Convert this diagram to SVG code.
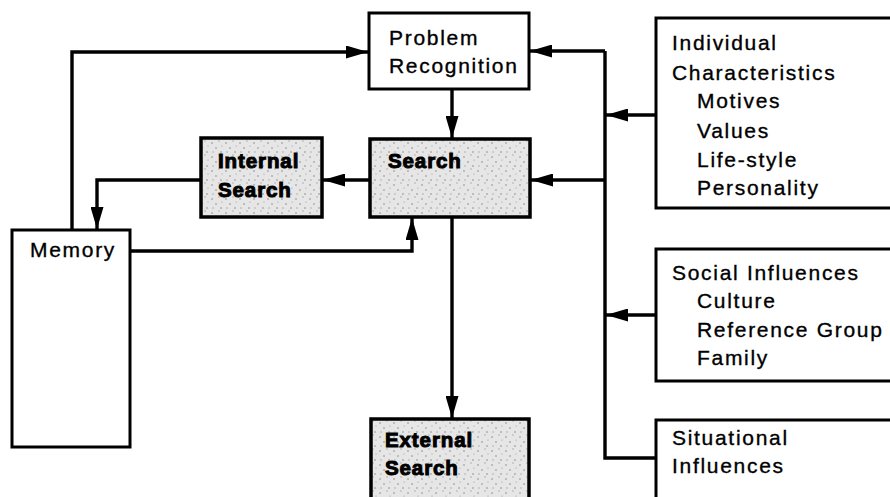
<svg xmlns="http://www.w3.org/2000/svg" width="890" height="497" viewBox="0 0 890 497">
  <style>
    .box { fill: #ffffff; stroke: #000; stroke-width: 3; }
    .shaded { fill: url(#stipple); stroke: #000; stroke-width: 3.5; }
    .lbl { font-family: "Liberation Sans", Arial, sans-serif; font-size: 21px; letter-spacing: 1.7px; fill: #000; stroke: #000; stroke-width: 0.35; }
    .bold { font-family: "Liberation Sans", Arial, sans-serif; font-size: 20.5px; font-weight: bold; letter-spacing: 0.9px; fill: #000; stroke: #000; stroke-width: 1; }
    .wire { fill: none; stroke: #000; stroke-width: 3.4; stroke-linejoin: miter; }
  </style>
  <defs>
    <!-- grainy halftone fill for the search boxes -->
    <pattern id="stipple" width="14" height="14" patternUnits="userSpaceOnUse">
      <rect width="14" height="14" fill="#e6e6e6"/>
      <circle cx="2" cy="3" r="0.8" fill="#8a8a8a"/>
      <circle cx="9" cy="1" r="0.7" fill="#a0a0a0"/>
      <circle cx="6" cy="8" r="0.8" fill="#8a8a8a"/>
      <circle cx="12" cy="6" r="0.6" fill="#9a9a9a"/>
      <circle cx="3" cy="12" r="0.7" fill="#a0a0a0"/>
      <circle cx="11" cy="12" r="0.8" fill="#8a8a8a"/>
    </pattern>
    <marker id="arrow" viewBox="0 0 22 13" refX="22" refY="6.5" markerWidth="22" markerHeight="13" markerUnits="userSpaceOnUse" orient="auto">
      <path d="M0,0 L22,6.5 L0,13 Z" fill="#000"/>
    </marker>
  </defs>

  <!-- connectors -->
  <g id="connectors">
    <!-- Memory to Problem Recognition -->
    <path class="wire" d="M72,230 V52 H368" marker-end="url(#arrow)"/>
    <!-- Internal Search to Memory -->
    <path class="wire" d="M201,180 H97 V229" marker-end="url(#arrow)"/>
    <!-- Search to Internal Search -->
    <path class="wire" d="M370,180 H323" marker-end="url(#arrow)"/>
    <!-- Memory to Search -->
    <path class="wire" d="M130,251 H412 V218" marker-end="url(#arrow)"/>
    <!-- Problem Recognition to Search -->
    <path class="wire" d="M452,89 V138" marker-end="url(#arrow)"/>
    <!-- Search to External Search -->
    <path class="wire" d="M452,217 V418" marker-end="url(#arrow)"/>
    <!-- influence bus -->
    <path class="wire" d="M605,51 V458 H656"/>
    <path class="wire" d="M605,51 H530" marker-end="url(#arrow)"/>
    <path class="wire" d="M605,180 H531" marker-end="url(#arrow)"/>
    <path class="wire" d="M656,115 H606" marker-end="url(#arrow)"/>
    <path class="wire" d="M656,315 H606" marker-end="url(#arrow)"/>
  </g>

  <g id="problem-recognition">
    <rect class="box" x="369" y="13" width="160" height="76"/>
    <text class="lbl" x="389" y="45">Problem</text>
    <text class="lbl" x="389" y="73">Recognition</text>
  </g>

  <g id="search">
    <rect class="shaded" x="370" y="139" width="160" height="78"/>
    <text class="bold" x="388" y="168">Search</text>
  </g>

  <g id="internal-search">
    <rect class="shaded" x="201" y="138" width="121" height="79"/>
    <text class="bold" x="218" y="168">Internal</text>
    <text class="bold" x="218" y="197">Search</text>
  </g>

  <g id="memory">
    <rect class="box" x="12" y="230" width="118" height="217"/>
    <text class="lbl" x="30" y="257">Memory</text>
  </g>

  <g id="external-search">
    <rect class="shaded" x="371" y="419" width="158" height="100"/>
    <text class="bold" x="385" y="447">External</text>
    <text class="bold" x="385" y="475">Search</text>
  </g>

  <g id="individual-characteristics">
    <rect class="box" x="656" y="18" width="250" height="190"/>
    <text class="lbl" x="672" y="50">Individual</text>
    <text class="lbl" x="672" y="80">Characteristics</text>
    <text class="lbl" x="697" y="108">Motives</text>
    <text class="lbl" x="697" y="138">Values</text>
    <text class="lbl" x="697" y="167">Life-style</text>
    <text class="lbl" x="697" y="195">Personality</text>
  </g>

  <g id="social-influences">
    <rect class="box" x="656" y="249" width="250" height="132"/>
    <text class="lbl" x="672" y="280">Social Influences</text>
    <text class="lbl" x="697" y="308">Culture</text>
    <text class="lbl" x="697" y="337">Reference Group</text>
    <text class="lbl" x="697" y="365">Family</text>
  </g>

  <g id="situational-influences">
    <rect class="box" x="656" y="420" width="250" height="100"/>
    <text class="lbl" x="672" y="445">Situational</text>
    <text class="lbl" x="672" y="473">Influences</text>
  </g>
</svg>
